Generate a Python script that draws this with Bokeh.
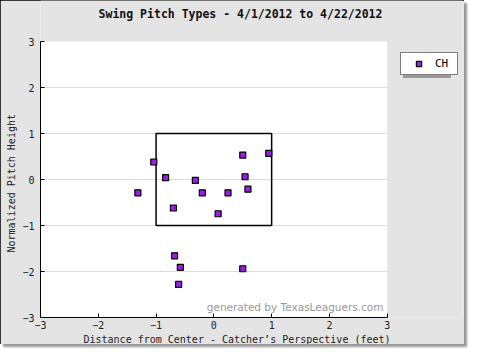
from bokeh.plotting import figure
from bokeh.models import Label, Legend, LegendItem, FixedTicker, Title
from bokeh.embed import file_html
from bokeh.resources import INLINE

# data
px = [-1.04, -1.315, -0.835, -0.32, -0.20, 0.245, -0.70, 0.074, 0.50, 0.95, 0.54, 0.59, -0.68, -0.58, -0.61, 0.50]
pz = [0.38, -0.29, 0.04, -0.02, -0.29, -0.29, -0.62, -0.745, 0.53, 0.57, 0.06, -0.21, -1.66, -1.91, -2.28, -1.94]
pitch_type = "CH"
zone_left, zone_right, zone_bottom, zone_top = [-1.0], [1.0], [-1.0], [1.0]
ticks = [-3, -2, -1, 0, 1, 2, 3]
grid_y = [-2, -1, 0, 1, 2]
x_min, x_max, y_min, y_max = -3, 3, -3, 3

title_text = "Swing Pitch Types - 4/1/2012 to 4/22/2012"
x_label = "Distance from Center - Catcher\u2019s Perspective (feet)"
y_label = "Normalized Pitch Height"
watermark = "generated by TexasLeaguers.com"

MONO = "DejaVu Sans Mono"
W, H = 464, 344
BL, BR, BT, BB = 36, 2, 0, 27
FW = W - BL - BR
FH = H - BT - BB
PLOT_W = 350          # pixels of the -3..3 x span
PLOT_TOP = 41         # pixels from figure top to y = 3
PLOT_H = FH - PLOT_TOP
x_end = x_max + (FW - PLOT_W) * (x_max - x_min) / PLOT_W
y_end = y_max + PLOT_TOP * (y_max - y_min) / PLOT_H
BG = "#e4e4e4"

p = figure(width=W, height=H, x_range=(x_min, x_end), y_range=(y_min, y_end),
           output_backend="svg", toolbar_location=None,
           min_border_left=BL, min_border_right=BR, min_border_top=BT, min_border_bottom=BB)
p.styles = {"outline": "1px solid black", "outline-offset": "-1px",
            "box-shadow": "3px 3px 2px #999999"}
p.border_fill_color = BG
p.background_fill_color = BG
p.outline_line_color = None
p.xgrid.visible = False
p.ygrid.visible = False

# white plotting area and horizontal grid lines
p.quad(left=[x_min], right=[x_max], bottom=[y_min], top=[y_max],
       fill_color="white", line_color=None)
p.segment(x0=[x_min] * len(grid_y), x1=[x_max] * len(grid_y), y0=grid_y, y1=grid_y,
          line_color="#dcdcdc", line_width=1)

for ax in (p.xaxis[0], p.yaxis[0]):
    ax.ticker = FixedTicker(ticks=ticks)
    ax.axis_line_color = "black"
    ax.major_tick_line_color = "black"
    ax.major_tick_in = 4
    ax.major_tick_out = 0
    ax.minor_tick_line_color = None
    ax.major_label_text_font = MONO
    ax.major_label_text_font_size = "10px"
    ax.major_label_text_color = "#222222"
p.xaxis.bounds = (x_min, x_max)
p.yaxis.bounds = (y_min, y_max)

p.xaxis.major_label_standoff = 3
p.yaxis.major_label_standoff = 6

# axis titles as side titles, so they can be offset like the reference
p.add_layout(Title(text=y_label, text_font=MONO, text_font_size="10px",
                   text_font_style="normal", text_color="#222222",
                   align="left", offset=65, standoff=6), "left")
p.add_layout(Title(text=x_label, text_font=MONO, text_font_size="10px",
                   text_font_style="normal", text_color="#222222",
                   align="left", offset=43, standoff=0), "below")

# title inside the (gray) top strip of the frame
p.add_layout(Label(x=200, y=FH - 13, x_units="screen", y_units="screen",
                   text=title_text, text_font=MONO, text_font_size="11.5px",
                   text_font_style="bold", text_align="center",
                   text_baseline="middle", text_color="#111111"))

p.quad(left=zone_left, right=zone_right, bottom=zone_bottom, top=zone_top,
       fill_color=None, line_color="black", line_width=1.5)

shadow_r = p.scatter([], [], marker="square", size=1, fill_alpha=0, line_alpha=0)
r = p.scatter(px, pz, marker="square", size=6, fill_color="#9a1ee6",
              line_color="black", line_width=1.2)

LEG_H = 21
LEG_TOP = 54
common = dict(label_text_font=MONO, label_text_font_size="11px",
              glyph_width=27, glyph_height=13, label_height=13, label_width=18,
              padding=4, label_standoff=3, margin=0, background_fill_alpha=1.0)
shadow = Legend(items=[LegendItem(label=" ", renderers=[shadow_r])],
                location=(PLOT_W + 13, FH - LEG_TOP - LEG_H - 3),
                background_fill_color="#9a9a9a", border_line_color=None,
                label_text_color="#9a9a9a", **common)
legend = Legend(items=[LegendItem(label=pitch_type, renderers=[r])],
                location=(PLOT_W + 10, FH - LEG_TOP - LEG_H),
                background_fill_color="white", border_line_color="black",
                border_line_width=1, label_text_color="black", **common)
p.add_layout(shadow)
p.add_layout(legend)

p.add_layout(Label(x=343, y=11, x_units="screen", y_units="screen",
                   text=watermark, text_font="DejaVu Sans", text_font_size="10.5px",
                   text_align="right", text_baseline="middle", text_color="#9a9a9a"))

open("out.html", "w").write(file_html(p, INLINE))
